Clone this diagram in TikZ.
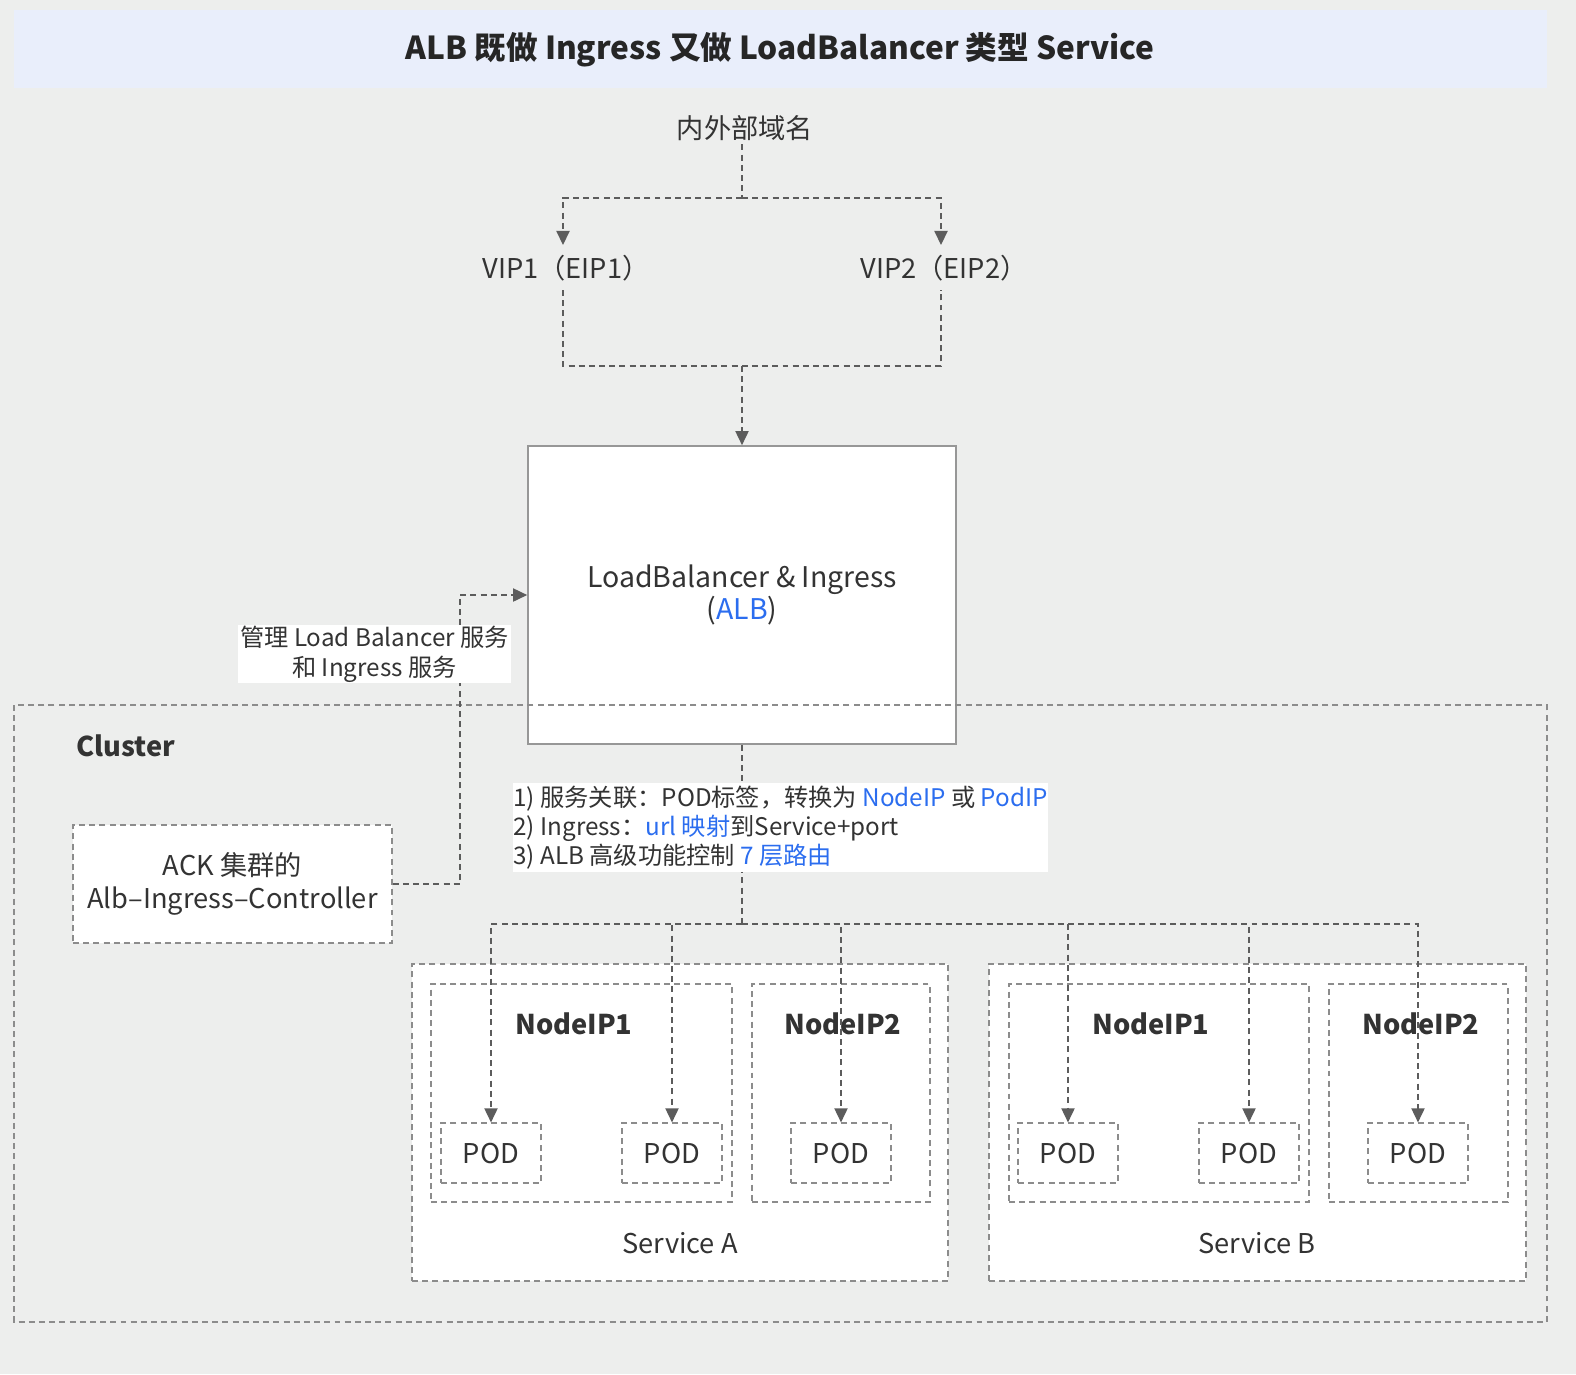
\documentclass[tikz,border=0pt]{standalone}
\usepackage{fontspec}
\setmainfont{Noto Sans CJK SC}
\usetikzlibrary{arrows.meta}
\definecolor{bgcol}{HTML}{EDEEED}
\definecolor{bannercol}{HTML}{E9EEFB}
\definecolor{linecol}{HTML}{5C5C5C}
\definecolor{boxcol}{HTML}{8C8C8C}
\definecolor{txtcol}{HTML}{333333}
\definecolor{albblue}{HTML}{2B6DEF}
\newcommand{\ttltxt}{\fontsize{18pt}{21pt}\selectfont}
\newcommand{\midtxt}{\fontsize{15.5pt}{18.7pt}\selectfont}
\newcommand{\lbtxt}{\fontsize{16.2pt}{18.7pt}\selectfont}
\newcommand{\mngtxt}{\fontsize{13.8pt}{17pt}\selectfont}
\newcommand{\smtxt}{\fontsize{13.8pt}{16.4pt}\selectfont}
\tikzset{
  dline/.style={draw=linecol, line width=0.8pt, dash pattern=on 3.4pt off 2.4pt},
  arr/.style={-{Triangle[length=8pt,width=7.5pt]}},
  lbl/.style={text=txtcol, font=\midtxt, inner sep=0pt},
  dbox/.style={draw=boxcol, fill=white, line width=0.7pt, dash pattern=on 3.4pt off 2.4pt},
  pod/.style={dbox, minimum width=2cm, minimum height=1.2cm, font=\midtxt, text=txtcol},
  lbbox/.style={draw=boxcol!90, fill=white, line width=1pt, minimum width=8.56cm, minimum height=5.96cm, align=center, font=\lbtxt, text=txtcol}
}
\begin{document}
\begin{tikzpicture}[x=0.02cm,y=-0.02cm]
\fill[bgcol] (0,0) rectangle (1576,1374);
\useasboundingbox (0,0) rectangle (1576,1374);
\fill[bannercol] (14,10) rectangle (1547,88);
\node[lbl,font=\ttltxt\bfseries,text=black!85] (title) at (780,50) {ALB 既做 Ingress 又做 LoadBalancer 类型 Service};

\node[lbl] (dom) at (745,128) {内外部域名};
\node[lbl] (vip1) at (566,268) {VIP1（EIP1）};
\node[lbl] (vip2) at (944,268) {VIP2（EIP2）};
\coordinate (s0) at (742,198);
\coordinate (a1) at (563,245);
\coordinate (a2) at (941,245);
\coordinate (b1) at (563,290);
\coordinate (b2) at (941,290);
\coordinate (m0) at (742,366);
\draw[dline] ([yshift=-2pt]s0 |- dom.south) -- (s0);
\draw[dline,arr] (s0) -| (a1);
\draw[dline,arr] (s0) -| (a2);
\draw[dline] (b1) |- (m0) -| (b2);

\node[lbbox] (lb) at (742,595) {LoadBalancer \& Ingress\\(\textcolor{albblue}{ALB})};
\draw[dline,arr] (m0) -- (lb);

\draw[dbox,fill=none] (14,705) rectangle (1547,1322);
\node[lbl,font=\midtxt\bfseries,anchor=west] (cl) at (76,746) {Cluster};
\node[dbox,minimum width=6.38cm,minimum height=2.36cm,align=center,font=\midtxt,text=txtcol] (ack) at (232.5,884) {ACK 集群的\\Alb–Ingress–Controller};

\node[dbox,minimum width=10.72cm,minimum height=6.34cm] (sva) at (680,1122.5) {};
\node[dbox,minimum width=10.74cm,minimum height=6.34cm] (svb) at (1257.5,1122.5) {};
\node[lbl] (sval) at (680,1243) {Service A};
\node[lbl] (svbl) at (1257,1243) {Service B};
\foreach \c/\w/\n in {581.5/6.02/na1, 841/3.56/na2, 1159/6.0/nb1, 1418.5/3.58/nb2}
  \node[dbox,minimum width=\w cm,minimum height=4.36cm] (\n) at (\c,1093) {};
\foreach \x/\t in {574/NodeIP1, 843/NodeIP2, 1151/NodeIP1, 1421/NodeIP2}
  \node[lbl,font=\midtxt\bfseries] (ip\x) at (\x,1024) {\t};
\foreach \x/\n in {491/pa1, 672/pa2, 841/pa3, 1068/pb1, 1249/pb2, 1418/pb3}
  \node[pod] (\n) at (\x,1153) {POD};

\coordinate (bus) at (742,924);
\draw[dline] (lb) -- (bus);
\foreach \n in {pa1,pa2,pa3,pb1,pb2,pb3}
  \draw[dline,arr] (bus) -| (\n);
\node[lbl,fill=white,align=left,font=\smtxt,inner xsep=0pt,inner ysep=2pt,anchor=west] (note) at (513,827.5)
  {1) 服务关联：POD标签，转换为 \textcolor{albblue}{NodeIP} 或 \textcolor{albblue}{PodIP}\\2) Ingress：\textcolor{albblue}{url 映射}到Service+port\\3) ALB 高级功能控制 \textcolor{albblue}{7 层路由}};

\coordinate (kx) at (460,884);
\draw[dline,arr] (ack.east) -- (kx) |- (lb.west);
\node[lbl,fill=white,align=center,font=\mngtxt,minimum width=5.46cm,minimum height=1.16cm] (mng) at (374.5,654) {管理 Load Balancer 服务\\和 Ingress 服务};
\end{tikzpicture}
\end{document}
